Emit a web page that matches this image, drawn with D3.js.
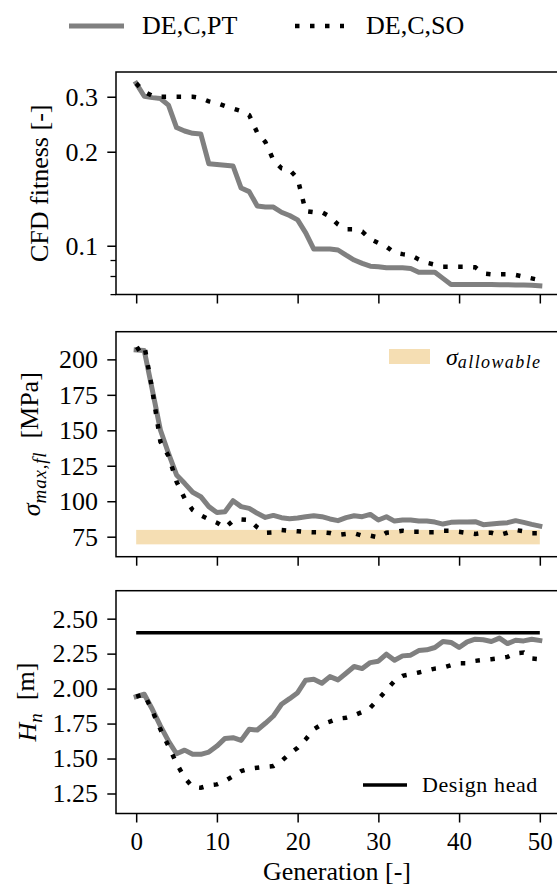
<!DOCTYPE html>
<html>
<head>
<meta charset="utf-8">
<script src="https://cdn.jsdelivr.net/npm/d3@7"></script>
<style>
  body { margin: 0; background: #fff; }
  svg text { font-family: "Liberation Serif", "Times New Roman", serif; fill: #000; }
</style>
</head>
<body>
<svg id="chart" width="557" height="893"></svg>
<script>
// values, one per generation (0..50)
const fitnessPT = [0.331, 0.301, 0.298, 0.296, 0.282, 0.239, 0.233, 0.229, 0.228, 0.183,
  0.182, 0.181, 0.180, 0.153, 0.149, 0.134, 0.133, 0.133, 0.128, 0.125,
  0.121, 0.110, 0.0976, 0.0976, 0.0976, 0.0969, 0.0933, 0.090, 0.0878, 0.086,
  0.0857, 0.085, 0.085, 0.085, 0.0846, 0.0823, 0.0823, 0.0823, 0.0786, 0.0752,
  0.0752, 0.0752, 0.0752, 0.0752, 0.0751, 0.075, 0.075, 0.0749, 0.0748, 0.0747,
  0.0744];
const fitnessSO = [0.331, 0.311, 0.302, 0.300, 0.300, 0.300, 0.300, 0.300, 0.297, 0.290,
  0.286, 0.280, 0.275, 0.270, 0.262, 0.230, 0.215, 0.188, 0.177, 0.175,
  0.164, 0.129, 0.128, 0.128, 0.124, 0.117, 0.113, 0.113, 0.111, 0.105,
  0.102, 0.0993, 0.095, 0.094, 0.0933, 0.0904, 0.0882, 0.087, 0.0857, 0.0857,
  0.0857, 0.0857, 0.0853, 0.0815, 0.081, 0.081, 0.081, 0.0806, 0.0796, 0.0786,
  0.0776];
const stressPT = [206.6, 206.2, 178.4, 150.2, 133.8, 118.5, 112.6, 106.3, 103.2, 96.2,
  92.0, 92.6, 100.4, 96.2, 95.0, 91.5, 88.6, 90.0, 88.4, 87.7,
  88.2, 89.1, 89.8, 89.1, 87.5, 86.3, 88.4, 89.8, 89.1, 90.7,
  86.8, 89.1, 86.0, 86.8, 86.8, 86.0, 86.0, 85.3, 83.9, 85.1,
  85.3, 85.3, 85.6, 83.5, 83.9, 84.4, 84.9, 86.3, 85.1, 83.7,
  82.5];
const stressSO = [206.6, 210.2, 178.4, 142.0, 131.9, 113.8, 102.0, 93.8, 90.0, 87.2,
  84.9, 81.3, 86.3, 87.2, 86.8, 81.6, 77.8, 78.1, 79.7, 79.2,
  78.8, 78.3, 78.1, 78.1, 77.6, 76.2, 76.9, 77.4, 75.7, 75.7,
  74.5, 77.8, 78.3, 79.2, 78.5, 78.5, 78.1, 78.1, 79.2, 79.2,
  78.5, 77.6, 76.9, 77.8, 77.8, 76.2, 77.8, 79.7, 78.8, 77.4,
  77.4];
const headPT = [1.943, 1.960, 1.852, 1.733, 1.625, 1.534, 1.560, 1.530, 1.530, 1.546,
  1.589, 1.644, 1.649, 1.630, 1.709, 1.704, 1.752, 1.804, 1.888, 1.928,
  1.971, 2.060, 2.067, 2.038, 2.086, 2.062, 2.110, 2.158, 2.143, 2.186,
  2.196, 2.246, 2.203, 2.234, 2.239, 2.272, 2.277, 2.294, 2.337, 2.330,
  2.294, 2.334, 2.353, 2.349, 2.337, 2.361, 2.322, 2.346, 2.341, 2.353,
  2.344];
const headSO = [1.943, 1.960, 1.840, 1.709, 1.589, 1.465, 1.362, 1.296, 1.291, 1.308,
  1.315, 1.339, 1.374, 1.410, 1.427, 1.434, 1.441, 1.446, 1.482, 1.534,
  1.577, 1.637, 1.709, 1.745, 1.764, 1.785, 1.792, 1.809, 1.833, 1.864,
  1.924, 1.990, 2.055, 2.091, 2.103, 2.115, 2.129, 2.143, 2.150, 2.167,
  2.181, 2.181, 2.198, 2.205, 2.210, 2.217, 2.227, 2.253, 2.258, 2.215,
  2.210];
const allowableStress = [69.6, 79.8];
const designHead = 2.4;
const genTicks = [0, 10, 20, 30, 40, 50];
const fitnessTicks = [0.1, 0.2, 0.3];
const fitnessMinor = [0.07, 0.08, 0.09];
const stressTicks = [75, 100, 125, 150, 175, 200];
const headTicks = [1.25, 1.5, 1.75, 2.0, 2.25, 2.5];
const seriesNames = ['DE,C,PT', 'DE,C,SO'];

const svg = d3.select('#chart');
const left = 116, right = 560;
const x = d3.scaleLinear().domain([-2.5, 52.5]).range([left, right]);

const panels = [
  { top: 72, bottom: 294.5, y: d3.scaleLog().domain([0.0698, 0.360]),
    a: fitnessPT, b: fitnessSO, ticks: fitnessTicks, fmt: d3.format('.1f'), labelX: 48 },
  { top: 331.7, bottom: 556.7, y: d3.scaleLinear().domain([60.9, 219.5]),
    a: stressPT, b: stressSO, ticks: stressTicks, fmt: d3.format('d'), labelX: 40 },
  { top: 590.7, bottom: 813.5, y: d3.scaleLinear().domain([1.107, 2.70]),
    a: headPT, b: headSO, ticks: headTicks, fmt: d3.format('.2f'), labelX: 36 }
];
panels.forEach(p => p.y.range([p.bottom, p.top]));

const grey = '#808080';
const dotted = '4.5,10.5';

panels.forEach((p, k) => {
  const g = svg.append('g');
  const line = d3.line().x((d, i) => x(i)).y(d => p.y(d));

  if (k === 1) {
    g.append('rect')
      .attr('x', x(0)).attr('width', x(50) - x(0))
      .attr('y', p.y(allowableStress[1]))
      .attr('height', p.y(allowableStress[0]) - p.y(allowableStress[1]))
      .attr('fill', '#f5deb3');
  }

  g.append('path').datum(p.a)
    .attr('d', line).attr('fill', 'none')
    .attr('stroke', grey).attr('stroke-width', 5)
    .attr('stroke-linejoin', 'round').attr('stroke-linecap', 'square');
  g.append('path').datum(p.b)
    .attr('d', line).attr('fill', 'none')
    .attr('stroke', '#000').attr('stroke-width', 4.5)
    .attr('stroke-dasharray', dotted);

  if (k === 2) {
    g.append('line')
      .attr('x1', x(0)).attr('x2', x(50))
      .attr('y1', p.y(designHead)).attr('y2', p.y(designHead))
      .attr('stroke', '#000').attr('stroke-width', 3.5);
  }

  // frame
  g.append('rect')
    .attr('x', left).attr('y', p.top)
    .attr('width', right - left).attr('height', p.bottom - p.top)
    .attr('fill', 'none').attr('stroke', '#000').attr('stroke-width', 1.5);

  // axes
  const ya = g.append('g').attr('transform', `translate(${left},0)`)
    .call(d3.axisLeft(p.y).tickValues(p.ticks).tickFormat(p.fmt)
      .tickSize(8.7).tickPadding(9.3).tickSizeOuter(0));
  if (k === 0) {
    g.append('g').attr('transform', `translate(${left},0)`)
      .call(d3.axisLeft(p.y).tickValues(fitnessMinor).tickFormat('')
        .tickSize(5.5).tickSizeOuter(0))
      .call(a => a.select('.domain').remove())
      .selectAll('line').attr('stroke-width', 1.3);
  }
  const xa = g.append('g').attr('transform', `translate(0,${p.bottom})`)
    .call(d3.axisBottom(x).tickValues(genTicks)
      .tickFormat(k === 2 ? d3.format('d') : '')
      .tickSize(9).tickPadding(9.7).tickSizeOuter(0));
  [ya, xa].forEach(a => {
    a.select('.domain').remove();
    a.attr('font-family', null).attr('font-size', 26);
    a.selectAll('line').attr('stroke-width', 1.5);
  });
  if (k === 2) xa.attr('font-size', 25);
});

// y labels
const yl = (p) => svg.append('text')
  .attr('transform', `translate(${p.labelX},${(p.top + p.bottom) / 2}) rotate(-90)`)
  .attr('text-anchor', 'middle').attr('font-size', 26);

yl(panels[0]).text('CFD fitness [-]');

const l2 = yl(panels[1]);
l2.append('tspan').attr('font-style', 'italic').text('σ');
l2.append('tspan').attr('font-style', 'italic').attr('font-size', 19)
  .attr('dy', '0.3em').attr('letter-spacing', 0.8).text('max,fl');
l2.append('tspan').attr('dy', '-0.3em').text('\u2002[MPa]');

const l3 = yl(panels[2]);
l3.append('tspan').attr('font-style', 'italic').text('H');
l3.append('tspan').attr('font-style', 'italic').attr('font-size', 19)
  .attr('dy', '0.3em').text('n');
l3.append('tspan').attr('dy', '-0.3em').text('\u2002[m]');

// x label
svg.append('text')
  .attr('x', (x(-2.5) + x(52.5)) / 2 - 1).attr('y', 879.5)
  .attr('text-anchor', 'middle').attr('font-size', 26)
  .text('Generation [-]');

// top legend
const lg = svg.append('g');
lg.append('line').attr('x1', 69).attr('x2', 124).attr('y1', 26).attr('y2', 26)
  .attr('stroke', grey).attr('stroke-width', 5);
lg.append('text').attr('x', 142).attr('y', 34).attr('font-size', 26).text(seriesNames[0]);
lg.append('line').attr('x1', 295).attr('x2', 344).attr('y1', 26).attr('y2', 26)
  .attr('stroke', '#000').attr('stroke-width', 4.5).attr('stroke-dasharray', dotted);
lg.append('text').attr('x', 366).attr('y', 34).attr('font-size', 26).text(seriesNames[1]);

// sigma allowable legend
svg.append('rect').attr('x', 389).attr('y', 349).attr('width', 41).attr('height', 15)
  .attr('fill', '#f5deb3');
const sa = svg.append('text').attr('x', 446).attr('y', 365).attr('font-size', 24)
  .attr('font-style', 'italic');
sa.append('tspan').text('σ');
sa.append('tspan').attr('font-size', 18).attr('dy', 3).attr('letter-spacing', 1.4).text('allowable');

// design head legend
svg.append('line').attr('x1', 363).attr('x2', 407).attr('y1', 785).attr('y2', 785)
  .attr('stroke', '#000').attr('stroke-width', 3.5);
svg.append('text').attr('x', 422).attr('y', 792).attr('font-size', 22)
  .attr('letter-spacing', 0.6).text('Design head');
</script>
</body>
</html>
